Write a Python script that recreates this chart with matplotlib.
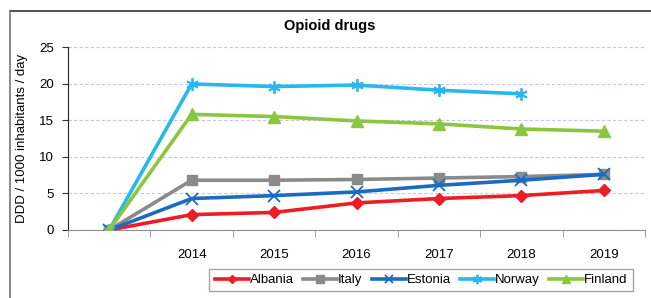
import matplotlib.pyplot as plt
from matplotlib.lines import Line2D

plt.rcParams['font.family'] = ['Liberation Sans', 'DejaVu Sans']

years = ['', '2014', '2015', '2016', '2017', '2018', '2019']
albania = [0, 2.1, 2.4, 3.7, 4.3, 4.7, 5.4]
italy = [0, 6.8, 6.8, 6.9, 7.1, 7.3, 7.6]
estonia = [0, 4.3, 4.7, 5.2, 6.1, 6.8, 7.6]
norway = [0, 19.95, 19.6, 19.8, 19.1, 18.6, None]
finland = [0, 15.8, 15.5, 14.9, 14.5, 13.8, 13.5]

series = [
    ('Albania', albania, '#ee1c25', 'D', 6),
    ('Italy', italy, '#8a8a8a', 's', 7.5),
    ('Estonia', estonia, '#1b6cc0', 'x', 8),
    ('Norway', norway, '#27b8ee', (6, 2, 0), 9),
    ('Finland', finland, '#8cc63f', '^', 8),
]

fig = plt.figure(figsize=(6.51, 2.98), dpi=100)
ax = fig.add_axes([68 / 651, 1 - 230 / 298, 577 / 651, 183 / 298])

x = list(range(len(years)))
handles = []
for name, vals, col, mk, ms in series:
    xs = [i for i, v in zip(x, vals) if v is not None]
    ys = [v for v in vals if v is not None]
    mew = 1.3 if mk in ('x', (6, 2, 0)) else 1
    ax.plot(xs, ys, color=col, lw=2.6, marker=mk, markersize=ms,
            markeredgewidth=mew, markeredgecolor=col, zorder=3)
    handles.append(Line2D([], [], color=col, lw=2.6, marker=mk,
                          markersize=ms * 0.75, markeredgewidth=mew,
                          markeredgecolor=col, label=name))

ax.set_xlim(-0.5, 6.5)
ax.set_ylim(0, 25)
ax.set_yticks([0, 5, 10, 15, 20, 25])
ax.set_xticks(x)
ax.set_xticklabels(years)
ax.set_xticks([i - 0.5 for i in range(8)], minor=True)
ax.tick_params(axis='x', which='major', length=0, pad=14, labelsize=9.5)
ax.tick_params(axis='x', which='minor', length=5, color='#909090', direction='out')
ax.tick_params(axis='y', length=4, color='#333333', labelsize=9.5, pad=6)

for s in ['top', 'right']:
    ax.spines[s].set_visible(False)
ax.spines['left'].set_color('#222222')
ax.spines['bottom'].set_color('#909090')
ax.yaxis.grid(True, ls=(0, (3, 2)), color='#c4c4ec', lw=0.8)
ax.set_axisbelow(True)

ax.set_ylabel('DDD / 1000 inhabitants / day', fontsize=9.5, labelpad=8)
fig.text(330 / 651, 1 - 26 / 298, 'Opioid drugs', ha='center', va='center',
         fontsize=10.5, fontweight='bold')

leg = fig.legend(handles=handles, ncol=5, loc='center',
                 bbox_to_anchor=(421 / 651, 1 - 280 / 298), fontsize=9.5,
                 frameon=True, fancybox=False, edgecolor='#909090',
                 handlelength=2.6, handletextpad=0.05, columnspacing=0.7,
                 borderpad=0.4)
leg.get_frame().set_linewidth(1.0)

# outer frame, cropped at the right and bottom
fig.add_artist(Line2D([10 / 651, 1], [1 - 11 / 298] * 2, transform=fig.transFigure,
                      color='#333333', lw=1.2))
fig.add_artist(Line2D([10 / 651] * 2, [0, 1 - 11 / 298], transform=fig.transFigure,
                      color='#777777', lw=1.2))

fig.savefig('out.png', dpi=100)
